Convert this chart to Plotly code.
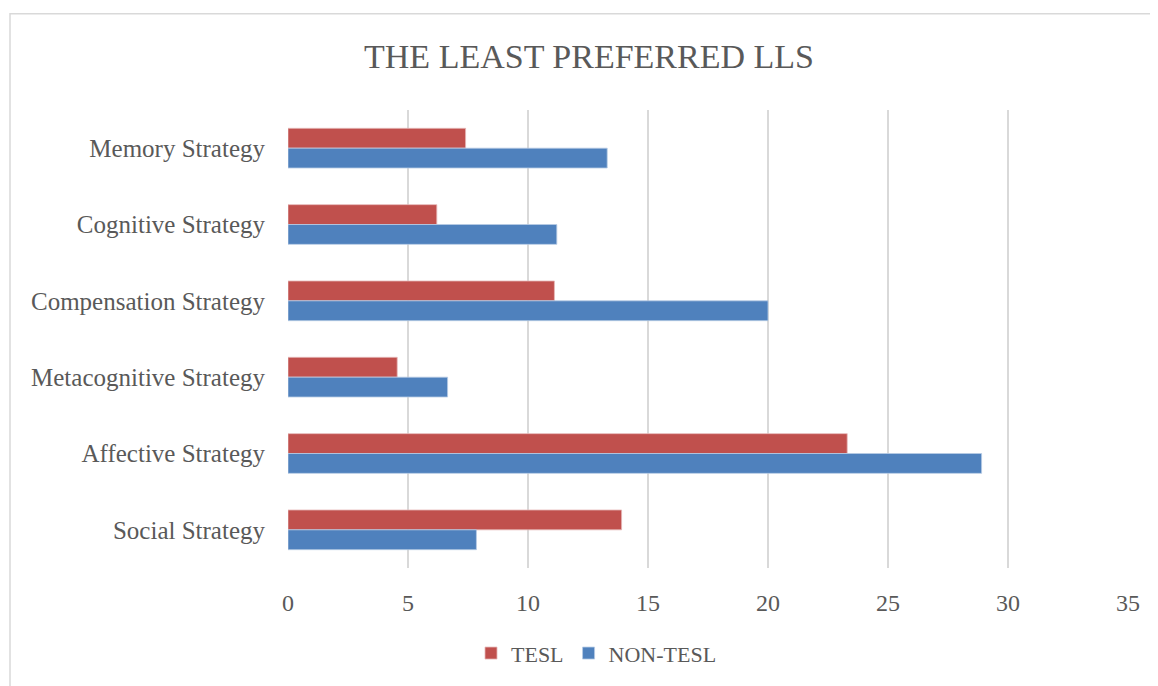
import plotly.graph_objects as go

categories = ["Memory Strategy", "Cognitive Strategy", "Compensation Strategy",
              "Metacognitive Strategy", "Affective Strategy", "Social Strategy"]
tesl = [7.4, 6.2, 11.1, 4.55, 23.3, 13.9]
non_tesl = [13.3, 11.2, 20.0, 6.65, 28.9, 7.85]
x_ticks = [0, 5, 10, 15, 20, 25, 30, 35]

FONT = "Liberation Serif"
TXT = "#595959"
OFF = 8  # page body margin

fig = go.Figure()
fig.add_trace(go.Bar(name="TESL", y=categories, x=tesl, orientation="h",
                     marker=dict(color="#C0504D", line=dict(color="#E6B8B7", width=0.8))))
fig.add_trace(go.Bar(name="NON-TESL", y=categories, x=non_tesl, orientation="h",
                     marker=dict(color="#4F81BD", line=dict(color="#B8CCE4", width=0.8))))

fig.update_layout(
    width=1158 - OFF, height=686 - OFF,
    margin=dict(l=288 - OFF, r=30, t=110 - OFF, b=114),
    paper_bgcolor="white", plot_bgcolor="white",
    barmode="group", bargap=0.48, bargroupgap=0,
    font=dict(family=FONT, color=TXT, size=25),
    title=dict(text="THE LEAST PREFERRED LLS", x=(589 - OFF) / (1158 - OFF), xref="container",
               xanchor="center", y=1 - (56 - OFF) / (686 - OFF), yref="container",
               yanchor="middle", font=dict(family=FONT, size=34, color=TXT)),
    xaxis=dict(range=[0, 35], tickvals=x_ticks, showgrid=True, gridcolor="#D9D9D9",
               gridwidth=1.5, zeroline=False, showline=False, ticks="",
               ticklabelstandoff=18,
               tickfont=dict(family=FONT, size=24, color=TXT), fixedrange=True),
    yaxis=dict(autorange="reversed", showgrid=False, ticks="", showline=False,
               ticklabelstandoff=22, tickfont=dict(family=FONT, size=25, color=TXT)),
    legend=dict(orientation="h", x=(471 - 288) / 840, xanchor="left", y=(572 - 658) / 462,
                yanchor="middle", font=dict(family=FONT, size=22, color=TXT), itemwidth=30),
    showlegend=True,
)

fig.add_shape(type="rect", xref="paper", yref="paper",
              x0=(10 - 288) / 840, x1=(1175 - 288) / 840,
              y0=(572 - 700) / 462, y1=(572 - 13) / 462,
              line=dict(color="#D9D9D9", width=1.5), layer="below")

fig.write_html("out.html")
